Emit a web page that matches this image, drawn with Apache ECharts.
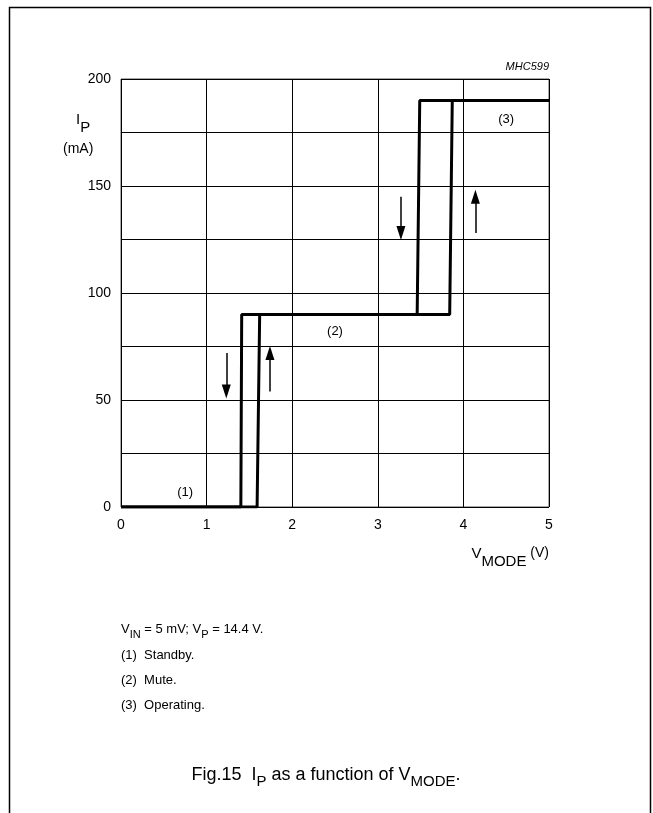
<!DOCTYPE html>
<html>
<head>
<meta charset="utf-8">
<script src="https://cdn.jsdelivr.net/npm/echarts@6/dist/echarts.min.js"></script>
<style>
html,body{margin:0;padding:0;background:#fff;}
#c{width:653px;height:813px;}
</style>
</head>
<body>
<div id="c"></div>
<script>
// Data
var downPathX = [5.00, 3.49, 3.46, 1.41, 1.40, 0.00];
var downPathY = [190, 190, 90, 90, 0, 0];
var upPathX = [0.00, 1.59, 1.62, 3.84, 3.87, 5.00];
var upPathY = [0, 0, 90, 90, 190, 190];
var regionLabels = ['(1)', '(2)', '(3)'];
var regionLabelX = [0.75, 2.5, 4.5];
var regionLabelY = [7, 82, 181];
var arrowX = [1.23, 1.74, 3.27, 4.14];
var arrowFromY = [72, 54, 145, 128];
var arrowToY = [54, 72, 128, 145];
var notes = ['(1)  Standby.', '(2)  Mute.', '(3)  Operating.'];

function zip(xs, ys) { return xs.map(function (x, i) { return [x, ys[i]]; }); }

var FONT = 'Liberation Sans, Arial, sans-serif';
var chart = echarts.init(document.getElementById('c'), null, {renderer: 'canvas'});

var arrowLines = arrowX.map(function (x, i) {
  return [{coord: [x, arrowFromY[i]]}, {coord: [x, arrowToY[i]]}];
});

var option = {
  backgroundColor: '#fff',
  animation: false,
  grid: {left: 121, top: 79, width: 428, height: 428, show: true, borderColor: '#555', borderWidth: 1},
  xAxis: {
    type: 'value', min: 0, max: 5, interval: 1,
    axisLine: {show: false}, axisTick: {show: false},
    splitLine: {show: true, lineStyle: {color: '#000', width: 1}},
    axisLabel: {color: '#000', fontSize: 14, fontFamily: FONT, margin: 11}
  },
  yAxis: {
    type: 'value', min: 0, max: 200, interval: 25,
    axisLine: {show: false}, axisTick: {show: false},
    splitLine: {show: true, lineStyle: {color: '#000', width: 1}},
    axisLabel: {color: '#000', fontSize: 14, fontFamily: FONT, margin: 10,
      formatter: function (v) { return v % 50 === 0 ? String(v) : ''; }}
  },
  series: [
    {
      type: 'line', data: zip(downPathX, downPathY), symbol: 'none',
      lineStyle: {color: '#000', width: 3}, z: 5,
      markLine: {
        silent: true, symbol: ['none', 'triangle'], symbolSize: [9, 14],
        lineStyle: {color: '#000', width: 1.5, type: 'solid'},
        itemStyle: {color: '#000'},
        label: {show: false},
        data: arrowLines
      }
    },
    {
      type: 'line', data: zip(upPathX, upPathY), symbol: 'none',
      lineStyle: {color: '#000', width: 3}, z: 5
    },
    {
      type: 'scatter', symbolSize: 0, itemStyle: {opacity: 1, color: '#000'},
      data: regionLabels.map(function (t, i) { return {value: [regionLabelX[i], regionLabelY[i]], name: t}; }),
      label: {show: true, position: 'inside', formatter: '{b}', color: '#000', opacity: 1, fontSize: 13, fontFamily: FONT}
    }
  ],
  graphic: [
    {type: 'rect', shape: {x: 9.5, y: 7.5, width: 641, height: 830}, style: {fill: 'none', stroke: '#000', lineWidth: 1.5}, silent: true},
    {type: 'text', x: 549, y: 61, style: {text: 'MHC599', fill: '#000', font: 'italic 11px ' + FONT, textAlign: 'right'}},
    {type: 'text', x: 76, y: 112, style: {
      text: '{a|I}{b|P}', rich: {
        a: {fontSize: 15, fontFamily: FONT, fill: '#000', verticalAlign: 'top', padding: [0,0,6,0]},
        b: {fontSize: 15, fontFamily: FONT, fill: '#000', verticalAlign: 'bottom', padding: [8,0,0,0]}
      }}},
    {type: 'text', x: 63, y: 142, style: {text: '(mA)', fill: '#000', font: '14px ' + FONT}},
    {type: 'text', x: 549, y: 546, style: {
      text: '{a|V}{b|MODE}{c| (V)}', textAlign: 'right', rich: {
        a: {fontSize: 15, fontFamily: FONT, fill: '#000', padding: [0,0,6,0], verticalAlign: 'top'},
        b: {fontSize: 15, fontFamily: FONT, fill: '#000', padding: [8,0,0,0], verticalAlign: 'bottom'},
        c: {fontSize: 14, fontFamily: FONT, fill: '#000', padding: [0,0,8,0], verticalAlign: 'top'}
      }}},
    {type: 'text', x: 121, y: 623, style: {
      text: '{a|V}{s|IN}{a| = 5 mV; V}{s|P}{a| = 14.4 V.}', rich: {
        a: {fontSize: 13, fontFamily: FONT, fill: '#000', verticalAlign: 'top', padding: [0,0,4,0]},
        s: {fontSize: 11, fontFamily: FONT, fill: '#000', verticalAlign: 'bottom', padding: [6,0,0,0]}
      }}},
    {type: 'text', x: 121, y: 649, style: {text: notes[0], fill: '#000', font: '13px ' + FONT}},
    {type: 'text', x: 121, y: 674, style: {text: notes[1], fill: '#000', font: '13px ' + FONT}},
    {type: 'text', x: 121, y: 699, style: {text: notes[2], fill: '#000', font: '13px ' + FONT}},
    {type: 'text', x: 326, y: 766, style: {
      text: '{a|Fig.15  I}{s|P}{a| as a function of V}{s|MODE}{a|.}', textAlign: 'center', rich: {
        a: {fontSize: 18, fontFamily: FONT, fill: '#000', verticalAlign: 'top', padding: [0,0,5,0]},
        s: {fontSize: 15, fontFamily: FONT, fill: '#000', verticalAlign: 'bottom', padding: [6,0,0,0]}
      }}}
  ]
};
chart.setOption(option);
</script>
</body>
</html>
